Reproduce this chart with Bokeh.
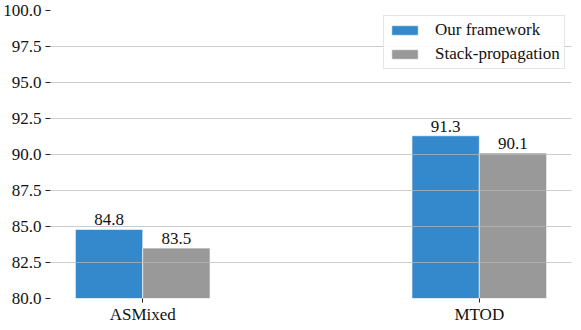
from bokeh.plotting import figure
from bokeh.models import ColumnDataSource, FixedTicker, Legend, LegendItem, Range1d, NumeralTickFormatter
from bokeh.transform import dodge
from bokeh.core.properties import value
from bokeh.embed import file_html
from bokeh.resources import INLINE

categories = ["ASMixed", "MTOD"]
ours = [84.8, 91.3]
stack = [83.5, 90.1]
series_names = ["Our framework", "Stack-propagation"]
y_ticks = [80.0, 82.5, 85.0, 87.5, 90.0, 92.5, 95.0, 97.5, 100.0]

x = list(range(len(categories)))
src = ColumnDataSource(dict(
    x=x, ours=ours, stack=stack,
    ours_lbl=[f"{v:.1f}" for v in ours],
    stack_lbl=[f"{v:.1f}" for v in stack],
))

FONT = "Liberation Serif"
BLUE = "#3389CB"
GRAY = "#999999"
FS = "17px"

FL, FT, FW, FH = 50, 10, 521, 288

p = figure(width=573, height=322, output_backend="svg", toolbar_location=None,
           x_range=Range1d(-0.274, 1.274), y_range=Range1d(80, 100),
           min_border_left=FL, min_border_right=573 - FL - FW, min_border_top=FT,
           min_border_bottom=322 - FT - FH,
           frame_width=FW, frame_height=FH)
p.outline_line_color = None
p.background_fill_color = "white"

bw = 0.2
r1 = p.vbar(x=dodge("x", -bw / 2, range=p.x_range), top="ours", bottom=80, width=bw, source=src,
            fill_color=BLUE, line_color="white", line_alpha=0.6, line_width=1)
r2 = p.vbar(x=dodge("x", bw / 2, range=p.x_range), top="stack", bottom=80, width=bw, source=src,
            fill_color=GRAY, line_color="white", line_alpha=0.6, line_width=1)

p.text(x=dodge("x", -bw / 2, range=p.x_range), y="ours", text="ours_lbl", source=src,
       text_align="center", text_baseline="bottom", y_offset=-4,
       text_font=value(FONT), text_font_size=FS, text_color="#111111")
p.text(x=dodge("x", bw / 2, range=p.x_range), y="stack", text="stack_lbl", source=src,
       text_align="center", text_baseline="bottom", y_offset=-4,
       text_font=value(FONT), text_font_size=FS, text_color="#111111")

p.xgrid.visible = False
p.ygrid.grid_line_color = "#b8b8b8"
p.ygrid.grid_line_alpha = 0.7
p.ygrid.grid_line_width = 1
p.ygrid.level = "guide"
p.ygrid.ticker = FixedTicker(ticks=y_ticks)

p.yaxis.ticker = FixedTicker(ticks=y_ticks)
p.yaxis.formatter = NumeralTickFormatter(format="0.0")
p.yaxis.axis_line_color = None
p.yaxis.minor_tick_line_color = None
p.yaxis.major_tick_out = 5
p.yaxis.major_tick_in = 0
p.yaxis.major_tick_line_color = "#222222"
p.yaxis.major_label_standoff = 4
p.yaxis.major_label_text_font = FONT
p.yaxis.major_label_text_font_size = FS
p.yaxis.major_label_text_color = "#111111"

p.xaxis.ticker = FixedTicker(ticks=x)
p.xaxis.major_label_overrides = {i: c for i, c in zip(x, categories)}
p.xaxis.axis_line_color = None
p.xaxis.minor_tick_line_color = None
p.xaxis.major_tick_out = 4
p.xaxis.major_tick_in = 0
p.xaxis.major_tick_line_color = "#222222"
p.xaxis.major_label_standoff = 2
p.xaxis.major_label_text_font = FONT
p.xaxis.major_label_text_font_size = FS
p.xaxis.major_label_text_color = "#111111"

legend = Legend(items=[LegendItem(label=series_names[0], renderers=[r1]),
                       LegendItem(label=series_names[1], renderers=[r2])],
                location=(333, 229))
legend.label_text_font = FONT
legend.label_text_font_size = FS
legend.label_text_color = "#111111"
legend.label_height = 20
legend.glyph_width = 33
legend.glyph_height = 12
legend.label_standoff = 14
legend.spacing = 4
legend.padding = 4
legend.margin = 0
legend.border_line_color = "#cccccc"
legend.border_line_width = 1
legend.background_fill_alpha = 0.9
p.add_layout(legend)

open("out.html", "w").write(file_html(p, INLINE))
